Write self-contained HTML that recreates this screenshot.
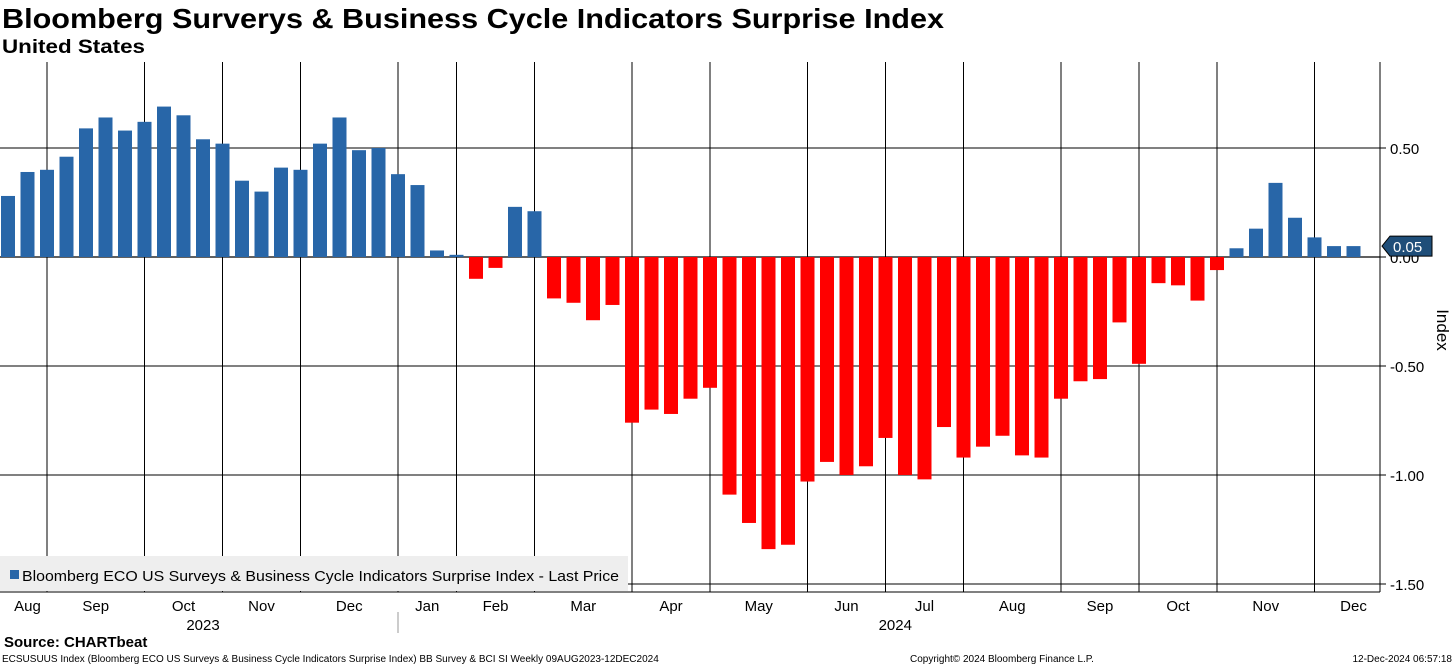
<!DOCTYPE html>
<html><head><meta charset="utf-8">
<style>
body{margin:0;background:#fff;font-family:"Liberation Sans",Arial,sans-serif;}
#wrap{position:relative;width:1456px;height:666px;overflow:hidden;background:#fff}
</style></head>
<body>
<div id="wrap">
<svg id="chart" width="1456" height="666" xmlns="http://www.w3.org/2000/svg">
<text x="2" y="28" font-size="28" font-weight="bold" fill="#000" textLength="942" lengthAdjust="spacingAndGlyphs">Bloomberg Surverys &amp; Business Cycle Indicators Surprise Index</text>
<text x="2" y="53" font-size="19" font-weight="bold" fill="#000" textLength="143" lengthAdjust="spacingAndGlyphs">United States</text>
<g id="grid"></g>
<g id="bars"></g>
<g id="axes"></g>
</svg>
</div>
<script>
const values=[0.28,0.39,0.40,0.46,0.59,0.64,0.58,0.62,0.69,0.65,0.54,0.52,0.35,0.30,0.41,0.40,0.52,0.64,0.49,0.50,0.38,0.33,0.03,0.01,-0.10,-0.05,0.23,0.21,-0.19,-0.21,-0.29,-0.22,-0.76,-0.70,-0.72,-0.65,-0.60,-1.09,-1.22,-1.34,-1.32,-1.03,-0.94,-1.00,-0.96,-0.83,-1.00,-1.02,-0.78,-0.92,-0.87,-0.82,-0.91,-0.92,-0.65,-0.57,-0.56,-0.30,-0.49,-0.12,-0.13,-0.20,-0.06,0.04,0.13,0.34,0.18,0.09,0.05,0.05];
const yTicks=[0.5,0,-0.5,-1,-1.5];
const yTickLabels=["0.50","0.00","-0.50","-1.00","-1.50"];
const monthLabels=["Aug","Sep","Oct","Nov","Dec","Jan","Feb","Mar","Apr","May","Jun","Jul","Aug","Sep","Oct","Nov","Dec"];
const monthBarIdx=[1,4.5,9,13,17.5,21.5,25,29.5,34,38.5,43,47,51.5,56,60,64.5,69];
const gridBarIdx=[2,7,11,15,20,23,27,32,36,41,45,49,54,58,62,67];
const years=["2023","2024"];
const yearBarIdx=[10,45.5];
const lastValue="0.05";

const NS="http://www.w3.org/2000/svg";
const Y=v=>257-v*218;
const X=i=>8+i*19.5;
function mk(t,a,p){const e=document.createElementNS(NS,t);for(const k in a)e.setAttribute(k,a[k]);p.appendChild(e);return e;}
const grid=document.getElementById('grid'),bars=document.getElementById('bars'),axes=document.getElementById('axes');
yTicks.forEach((v,i)=>{
 const l=mk('line',{x1:0,x2:1380,y1:Y(v),y2:Y(v),stroke:'#000','stroke-width':v===0?1.3:1},grid);
 
 
 mk('line',{x1:1380,x2:1386,y1:Y(v),y2:Y(v),stroke:'#000'},axes);
 const t=mk('text',{x:1390,y:Y(v)+6,'font-size':15,fill:'#000'},axes);t.textContent=yTickLabels[i];
 
 
});
gridBarIdx.forEach(g=>{
 const l=mk('line',{x1:X(g),x2:X(g),y1:62,y2:592,stroke:'#000','stroke-width':1},grid);
 
 
});
values.forEach((v,i)=>{
 const y0=Y(0),y1=Y(v);
 const r=mk('rect',{x:X(i)-7,width:14,y:Math.min(y0,y1),height:Math.max(1,Math.abs(y1-y0)),fill:v>=0?'#2866a8':'#ff0000'},bars);
 
 
});
mk('line',{x1:1380,x2:1380,y1:62,y2:592,stroke:'#000'},axes);
mk('line',{x1:0,x2:1380,y1:592,y2:592,stroke:'#000'},axes);
monthLabels.forEach((m,i)=>{
 const t=mk('text',{x:X(monthBarIdx[i]),y:611,'font-size':15,'text-anchor':'middle',fill:'#000'},axes);t.textContent=m;
 
 
});
years.forEach((y,i)=>{
 const t=mk('text',{x:X(yearBarIdx[i]),y:630,'font-size':15,'text-anchor':'middle',fill:'#000'},axes);t.textContent=y;
 
 
});
mk('line',{x1:398,x2:398,y1:612,y2:633,stroke:'#999'},axes);
const ly=Y(parseFloat(lastValue));
const lp=mk('path',{d:`M1382 ${ly} L1390 ${ly-10} L1432 ${ly-10} L1432 ${ly+10} L1390 ${ly+10} Z`,fill:'#1f4e79',stroke:'#000'},axes);


const lt=mk('text',{x:1393,y:ly+6,'font-size':15,fill:'#fff'},axes);lt.textContent=lastValue;


const yt=mk('text',{x:1437,y:330,'font-size':17,fill:'#000','text-anchor':'middle',transform:'rotate(90 1437 330)'},axes);yt.textContent='Index';


const lg=mk('rect',{x:0,y:556,width:628,height:35,fill:'#eeeeee'},axes);


mk('rect',{x:10,y:570,width:9,height:9,fill:'#2866a8'},axes);
const lgt=mk('text',{x:22,y:581,'font-size':15,fill:'#000',textLength:597,lengthAdjust:'spacingAndGlyphs'},axes);lgt.textContent='Bloomberg ECO US Surveys & Business Cycle Indicators Surprise Index - Last Price';


const src=mk('text',{x:4,y:647,'font-size':15,'font-weight':'bold',fill:'#000'},axes);src.textContent='Source: CHARTbeat';


const f1=mk('text',{x:2,y:662,'font-size':10,fill:'#000'},axes);f1.textContent='ECSUSUUS Index (Bloomberg ECO US Surveys & Business Cycle Indicators Surprise Index) BB Survey & BCI SI  Weekly 09AUG2023-12DEC2024';


const f2=mk('text',{x:910,y:662,'font-size':10,fill:'#000'},axes);f2.textContent='Copyright© 2024 Bloomberg Finance L.P.';


const f3=mk('text',{x:1452,y:662,'font-size':10,fill:'#000','text-anchor':'end'},axes);f3.textContent='12-Dec-2024 06:57:18';


</script>
</body></html>
